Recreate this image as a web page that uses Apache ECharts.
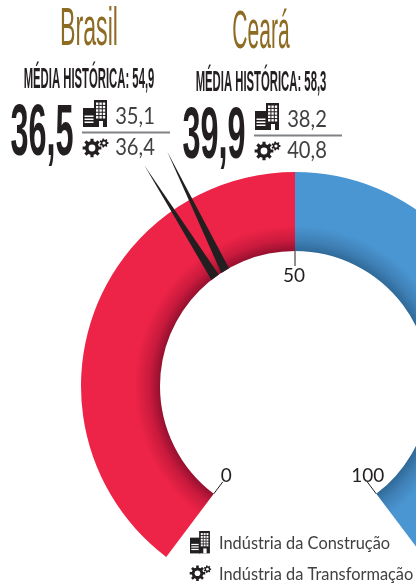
<!DOCTYPE html>
<html>
<head>
<meta charset="utf-8">
<style>
  html, body { margin: 0; padding: 0; background: #fff; }
  #myChart { width: 416px; height: 583px; }
</style>
<script src="https://cdn.jsdelivr.net/npm/echarts@6/dist/echarts.min.js"></script>
</head>
<body>
<div id="myChart"></div>
<script>
// values
const regioes = ["Brasil", "Ceará"];
const mediaHistorica = [54.9, 58.3];
const indice = [36.5, 39.9];
const construcao = [35.1, 38.2];
const transformacao = [36.4, 40.8];
const faixas = [50, 50];
const tickValues = [0, 50, 100];
// where the needles sit on the 0-100 scale, base and tip
const needleBase = [37.3, 39.1];
const needleTip = [38.0, 40.0];
const legendLabels = ["Indústria da Construção", "Indústria da Transformação"];

const CX = 295, CY = 386, R_IN = 135, R_OUT = 214;
const NARROW = '"Liberation Sans"';
const DARK = "#231f20";

function fmt(v) {
  return v.toFixed(1).replace(".", ",");
}

function ringGradient(dark, mid, bright) {
  return {
    type: "radial", x: CX, y: CY, r: R_OUT, global: true,
    colorStops: [
      { offset: 0, color: dark },
      { offset: R_IN / R_OUT, color: dark },
      { offset: 0.68, color: mid },
      { offset: 0.75, color: bright },
      { offset: 1, color: bright }
    ]
  };
}

function text(str, x, y, font, fill, scaleX, align) {
  return {
    type: "text", x: x, y: y, scaleX: scaleX || 1, z: 10,
    style: { text: str, font: font, fill: fill, textAlign: align || "center", textVerticalAlign: "middle" }
  };
}

function gearPoints(cx, cy, ro, ri, n) {
  let pts = [];
  let step = Math.PI / n;
  for (let i = 0; i < n * 2; i++) {
    let r = i % 2 ? ri : ro;
    for (let k of [-0.42, 0.42]) {
      let a = i * step + k * step;
      pts.push([cx + r * Math.cos(a), cy + r * Math.sin(a)]);
    }
  }
  return pts;
}

function gearIcon(x, y, s) {
  return [
    { type: "polygon", shape: { points: gearPoints(x + 9 * s, y + 10 * s, 9.5 * s, 7 * s, 8) }, style: { fill: DARK }, z: 10 },
    { type: "circle", shape: { cx: x + 9 * s, cy: y + 10 * s, r: 3.4 * s }, style: { fill: "#fff" }, z: 11 },
    { type: "polygon", shape: { points: gearPoints(x + 21 * s, y + 5 * s, 4.6 * s, 3.4 * s, 7) }, style: { fill: DARK }, z: 10 },
    { type: "circle", shape: { cx: x + 21 * s, cy: y + 5 * s, r: 1.6 * s }, style: { fill: "#fff" }, z: 11 }
  ];
}

function buildingIcon(x, y, s) {
  let rect = (rx, ry, w, h, fill) => ({
    type: "rect", z: fill === DARK ? 10 : 11,
    shape: { x: x + rx * s, y: y + ry * s, width: w * s, height: h * s },
    style: { fill: fill }
  });
  let els = [rect(0, 8, 12, 19, DARK), rect(11, 0, 13, 27, DARK)];
  // tower windows
  for (let r = 0; r < 5; r++) {
    for (let c = 0; c < 3; c++) {
      els.push(rect(13 + c * 3.4, 2.5 + r * 3.4, 2.4, 2.4, "#fff"));
    }
  }
  // stripes on the low block
  for (let r = 0; r < 3; r++) {
    els.push(rect(1.5, 15.5 + r * 3, 9, 1.5, "#fff"));
  }
  els.push(rect(16, 21, 4, 6, "#fff"));
  return els;
}

const titleScale = [0.43, 0.39];

let graphics = [];
regioes.forEach(function (nome, i) {
  let dx = i * 172, dy = i * 3;
  graphics.push(text(nome, 89 + dx, 30 + dy, "54px " + NARROW, "#8e6b23", titleScale[i]));
  graphics.push(text("MÉDIA HISTÓRICA: " + fmt(mediaHistorica[i]), 89 + dx, 80 + dy, "bold 29px " + NARROW, DARK, 0.39));
  graphics.push(text(fmt(indice[i]), 42 + dx, 135 + dy, "bold 72px " + NARROW, DARK, 0.45));
  graphics.push(text(fmt(construcao[i]), 135 + dx, 116 + dy, "24px Lato", "#414042", 0.84));
  graphics.push(text(fmt(transformacao[i]), 135 + dx, 147 + dy, "24px Lato", "#414042", 0.84));
  graphics.push({
    type: "line", z: 10,
    shape: { x1: 82 + dx, y1: 132.5 + dy, x2: 170 + dx, y2: 132.5 + dy },
    style: { stroke: "#808285", lineWidth: 2 }
  });
  graphics = graphics.concat(buildingIcon(83 + dx, 100 + dy, 1));
  graphics = graphics.concat(gearIcon(83 + dx, 138 + dy, 1));
});
graphics = graphics.concat(buildingIcon(190, 531, 0.83));
graphics = graphics.concat(gearIcon(190, 565, 0.83));
graphics.push(text(legendLabels[0], 219, 543, "18px Lato", "#414042", 0.91, "left"));
graphics.push(text(legendLabels[1], 219, 574, "18px Lato", "#414042", 0.91, "left"));

let myChart = echarts.init(document.getElementById("myChart"), null, { renderer: "canvas" });

// nudges the three scale labels, same font for each
const labelFont = { fontFamily: "Lato", fontSize: 19, color: DARK };

let option = {
  animation: false,
  backgroundColor: "#fff",
  polar: { center: [CX, CY], radius: R_OUT },
  angleAxis: {
    type: "value", min: 0, max: 100, interval: 50,
    startAngle: 233, endAngle: -53,
    axisLine: { show: false },
    axisTick: { show: false },
    splitLine: { show: false },
    axisLabel: {
      show: true, margin: -113,
      align: "center", verticalAlign: "middle",
      fontFamily: "Lato", fontSize: 19, color: DARK,
      customValues: tickValues,
      formatter: function (v) {
        return "{t" + v + "|" + v + "}";
      },
      rich: {
        t0: Object.assign({ padding: [0, 16, 8, 0] }, labelFont),
        t50: Object.assign({ padding: [4, 2, 0, 0] }, labelFont),
        t100: Object.assign({ padding: [0, 0, 8, 24] }, labelFont)
      }
    }
  },
  radiusAxis: { type: "value", min: 0, max: R_OUT, show: false },
  graphic: graphics,
  series: [
    {
      type: "pie", silent: true, z: 1,
      center: [CX, CY], radius: [R_IN, R_OUT],
      startAngle: 233, endAngle: -53, clockwise: true,
      label: { show: false }, labelLine: { show: false },
      data: [
        { value: faixas[0], itemStyle: { color: ringGradient("#96102f", "#c91a3d", "#ed2447") } },
        { value: faixas[1], itemStyle: { color: ringGradient("#2f6a98", "#3f80b6", "#4a96d2") } }
      ]
    },
    {
      // ticks under the ring
      type: "custom", coordinateSystem: "polar", silent: true, z: 3,
      data: tickValues.map((v) => [R_IN, v]),
      renderItem: function (params, api) {
        let a = api.coord([R_IN, api.value(1)]);
        let b = api.coord([R_IN - 15, api.value(1)]);
        return {
          type: "line",
          shape: { x1: a[0], y1: a[1], x2: b[0], y2: b[1] },
          style: { stroke: DARK, lineWidth: 1 }
        };
      }
    },
    {
      // needles
      type: "custom", coordinateSystem: "polar", silent: true, z: 5,
      data: needleBase.map((v, i) => [R_IN, v, needleTip[i]]),
      renderItem: function (params, api) {
        let v = api.value(1);
        let pts = [
          api.coord([R_IN, v - 0.67]),
          api.coord([R_IN, v + 0.67]),
          api.coord([267, api.value(2)])
        ];
        return { type: "polygon", shape: { points: pts }, style: { fill: DARK } };
      }
    }
  ]
};

myChart.setOption(option);
</script>
</body>
</html>
